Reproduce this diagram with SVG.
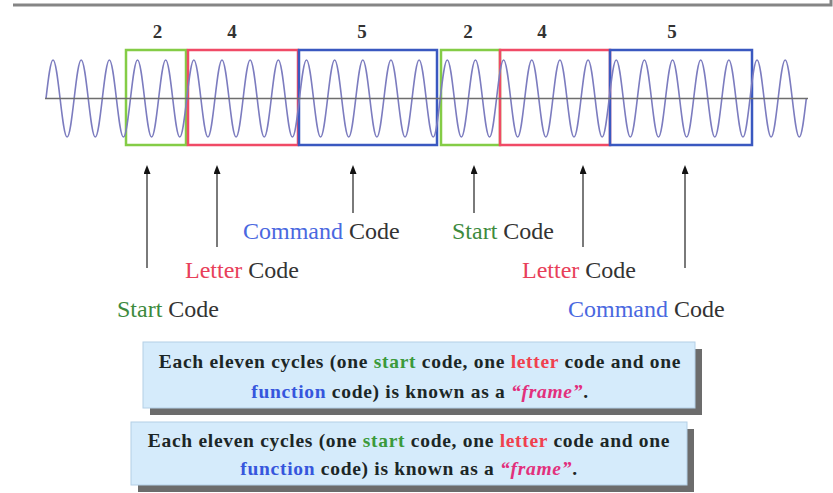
<svg xmlns="http://www.w3.org/2000/svg" width="833" height="493" viewBox="0 0 833 493">
<defs>
<marker id="ah" markerWidth="9" markerHeight="7" refX="6" refY="3.5" orient="auto" markerUnits="userSpaceOnUse" viewBox="0 0 9 7">
<path d="M0,0 L9,3.5 L0,7 Z" fill="#111"/>
</marker>
</defs>
<style>
.frame{fill:none;stroke:#858585;stroke-width:3}
.num{font-family:"Liberation Serif",serif;font-weight:bold;font-size:19px;fill:#333;text-anchor:middle}
.seg{fill:none;stroke-width:2.5}
.g{stroke:#84cc46}
.r{stroke:#f04a66}
.b{stroke:#3a58c0}
.wave{fill:none;stroke:#7c7cbf;stroke-width:1.6}
.axis{stroke:#6e6e6e;stroke-width:1.6}
.arr{stroke:#7a7a7a;stroke-width:2;fill:none}
.lbl{font-family:"Liberation Serif",serif;font-size:24px;fill:#333}
.cg{fill:#3d8a3d}
.cr{fill:#e8405a}
.cb{fill:#4a68e0}
.box{fill:#d5ebfb;stroke:#b3cfe6;stroke-width:1}
.shadow{fill:#6c6c6c}
.note{font-family:"Liberation Serif",serif;font-weight:bold;font-size:19.5px;fill:#1c2626;text-anchor:middle;letter-spacing:0.7px}
.ng{fill:#3b9a3b}
.nr{fill:#f0404e}
.nb{fill:#3656dd}
.fr{fill:#e2307c;font-style:italic}
</style>

<path class="frame" d="M13,5 H831 V0"/>

<g id="counts">
<text class="num" x="157.5" y="38">2</text>
<text class="num" x="232" y="38">4</text>
<text class="num" x="362" y="38">5</text>
<text class="num" x="468" y="38">2</text>
<text class="num" x="542" y="38">4</text>
<text class="num" x="672" y="38">5</text>
</g>

<g id="segments">
<rect class="seg g" x="126" y="50" width="60" height="95"/>
<rect class="seg r" x="188" y="50" width="110" height="95"/>
<rect class="seg b" x="299" y="50" width="138" height="95"/>
<rect class="seg g" x="441" y="50" width="59" height="95"/>
<rect class="seg r" x="500" y="50" width="110" height="95"/>
<rect class="seg b" x="610" y="50" width="142" height="95"/>
</g>

<g id="signal">
<path class="wave" d="M46,98.5 c2.3,-19.72 4.49,-38.5 7.04,-38.5 s4.74,18.78 7.04,38.5 s4.49,38.5 7.04,38.5 s4.74,-18.78 7.04,-38.5
s4.49,-38.5 7.04,-38.5 s4.74,18.78 7.04,38.5 s4.49,38.5 7.04,38.5 s4.74,-18.78 7.04,-38.5
s4.49,-38.5 7.04,-38.5 s4.74,18.78 7.04,38.5 s4.49,38.5 7.04,38.5 s4.74,-18.78 7.04,-38.5
s4.49,-38.5 7.04,-38.5 s4.74,18.78 7.04,38.5 s4.49,38.5 7.04,38.5 s4.74,-18.78 7.04,-38.5
s4.49,-38.5 7.04,-38.5 s4.74,18.78 7.04,38.5 s4.49,38.5 7.04,38.5 s4.74,-18.78 7.04,-38.5
s4.49,-38.5 7.04,-38.5 s4.74,18.78 7.04,38.5 s4.49,38.5 7.04,38.5 s4.74,-18.78 7.04,-38.5
s4.49,-38.5 7.04,-38.5 s4.74,18.78 7.04,38.5 s4.49,38.5 7.04,38.5 s4.74,-18.78 7.04,-38.5
s4.49,-38.5 7.04,-38.5 s4.74,18.78 7.04,38.5 s4.49,38.5 7.04,38.5 s4.74,-18.78 7.04,-38.5
s4.49,-38.5 7.04,-38.5 s4.74,18.78 7.04,38.5 s4.49,38.5 7.04,38.5 s4.74,-18.78 7.04,-38.5
s4.49,-38.5 7.04,-38.5 s4.74,18.78 7.04,38.5 s4.49,38.5 7.04,38.5 s4.74,-18.78 7.04,-38.5
s4.49,-38.5 7.04,-38.5 s4.74,18.78 7.04,38.5 s4.49,38.5 7.04,38.5 s4.74,-18.78 7.04,-38.5
s4.49,-38.5 7.04,-38.5 s4.74,18.78 7.04,38.5 s4.49,38.5 7.04,38.5 s4.74,-18.78 7.04,-38.5
s4.49,-38.5 7.04,-38.5 s4.74,18.78 7.04,38.5 s4.49,38.5 7.04,38.5 s4.74,-18.78 7.04,-38.5
s4.49,-38.5 7.04,-38.5 s4.74,18.78 7.04,38.5 s4.49,38.5 7.04,38.5 s4.74,-18.78 7.04,-38.5
s4.49,-38.5 7.04,-38.5 s4.74,18.78 7.04,38.5 s4.49,38.5 7.04,38.5 s4.74,-18.78 7.04,-38.5
s4.49,-38.5 7.04,-38.5 s4.74,18.78 7.04,38.5 s4.49,38.5 7.04,38.5 s4.74,-18.78 7.04,-38.5
s4.49,-38.5 7.04,-38.5 s4.74,18.78 7.04,38.5 s4.49,38.5 7.04,38.5 s4.74,-18.78 7.04,-38.5
s4.49,-38.5 7.04,-38.5 s4.74,18.78 7.04,38.5 s4.49,38.5 7.04,38.5 s4.74,-18.78 7.04,-38.5
s4.49,-38.5 7.04,-38.5 s4.74,18.78 7.04,38.5 s4.49,38.5 7.04,38.5 s4.74,-18.78 7.04,-38.5
s4.49,-38.5 7.04,-38.5 s4.74,18.78 7.04,38.5 s4.49,38.5 7.04,38.5 s4.74,-18.78 7.04,-38.5
s4.49,-38.5 7.04,-38.5 s4.74,18.78 7.04,38.5 s4.49,38.5 7.04,38.5 s4.74,-18.78 7.04,-38.5
s4.49,-38.5 7.04,-38.5 s4.74,18.78 7.04,38.5 s4.49,38.5 7.04,38.5 s4.74,-18.78 7.04,-38.5
s4.49,-38.5 7.04,-38.5 s4.74,18.78 7.04,38.5 s4.49,38.5 7.04,38.5 s4.74,-18.78 7.04,-38.5
s4.49,-38.5 7.04,-38.5 s4.74,18.78 7.04,38.5 s4.49,38.5 7.04,38.5 s4.74,-18.78 7.04,-38.5
s4.49,-38.5 7.04,-38.5 s4.74,18.78 7.04,38.5 s4.49,38.5 7.04,38.5 s4.74,-18.78 7.04,-38.5
s4.49,-38.5 7.04,-38.5 s4.74,18.78 7.04,38.5 s4.49,38.5 7.04,38.5 s4.74,-18.78 7.04,-38.5
s4.49,-38.5 7.04,-38.5 s4.74,18.78 7.04,38.5 s4.49,38.5 7.04,38.5 s4.74,-18.78 7.04,-38.5"/>
<line class="axis" x1="45" y1="98.5" x2="808" y2="98.5"/>
</g>

<g id="connectors">
<line class="arr" x1="147" y1="268" x2="147" y2="168" marker-end="url(#ah)"/>
<line class="arr" x1="217" y1="247" x2="217" y2="168" marker-end="url(#ah)"/>
<line class="arr" x1="353" y1="213" x2="353" y2="168" marker-end="url(#ah)"/>
<line class="arr" x1="474" y1="213" x2="474" y2="168" marker-end="url(#ah)"/>
<line class="arr" x1="583" y1="247" x2="583" y2="168" marker-end="url(#ah)"/>
<line class="arr" x1="685" y1="268" x2="685" y2="168" marker-end="url(#ah)"/>
</g>

<g id="label-start-1"><text class="lbl" x="117" y="317"><tspan class="cg">Start</tspan> Code</text></g>
<g id="label-letter-1"><text class="lbl" x="185" y="278"><tspan class="cr">Letter</tspan> Code</text></g>
<g id="label-command-1"><text class="lbl" x="243" y="239"><tspan class="cb">Command</tspan> Code</text></g>
<g id="label-start-2"><text class="lbl" x="452" y="239"><tspan class="cg">Start</tspan> Code</text></g>
<g id="label-letter-2"><text class="lbl" x="522" y="278"><tspan class="cr">Letter</tspan> Code</text></g>
<g id="label-command-2"><text class="lbl" x="568" y="317"><tspan class="cb">Command</tspan> Code</text></g>

<g id="note-1">
<rect class="shadow" x="150" y="349" width="552" height="66"/>
<rect class="box" x="143" y="342" width="552" height="66"/>
<text class="note" x="420" y="368">Each eleven cycles (one <tspan class="ng">start</tspan> code, one <tspan class="nr">letter</tspan> code and one</text>
<text class="note" x="420" y="398"><tspan class="nb">function</tspan> code) is known as a <tspan class="fr">“frame”</tspan>.</text>
</g>

<g id="note-2">
<rect class="shadow" x="138" y="429" width="556" height="63"/>
<rect class="box" x="131" y="422" width="556" height="63"/>
<text class="note" x="409" y="447">Each eleven cycles (one <tspan class="ng">start</tspan> code, one <tspan class="nr">letter</tspan> code and one</text>
<text class="note" x="409" y="475"><tspan class="nb">function</tspan> code) is known as a <tspan class="fr">“frame”</tspan>.</text>
</g>
</svg>
